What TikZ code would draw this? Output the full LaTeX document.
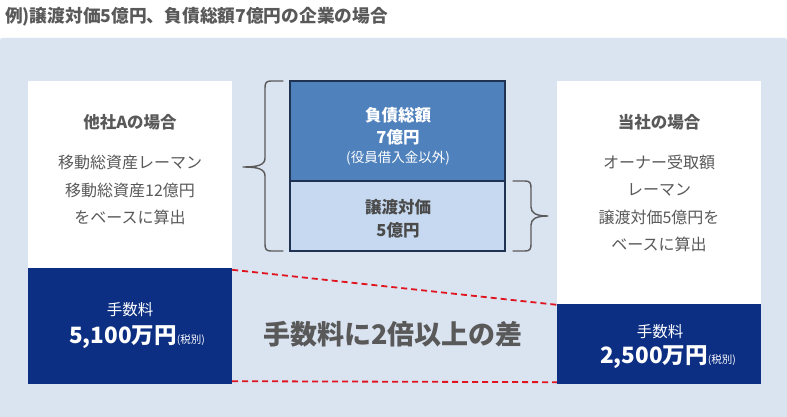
\documentclass[tikz,border=0pt]{standalone}
\usepackage{fontspec}
\setmainfont{Noto Sans CJK JP}
\usetikzlibrary{calc}
\definecolor{txtgray}{HTML}{595959}
\definecolor{midgray}{HTML}{4A4A4A}
\definecolor{panel}{HTML}{DAE3F0}
\definecolor{navy}{HTML}{0D2F83}
\definecolor{midblue}{HTML}{4F81BD}
\definecolor{lightblue}{HTML}{C6D9F0}
\definecolor{edgenavy}{HTML}{1F3251}
\definecolor{dashred}{HTML}{E0141E}
\begin{document}
\begin{tikzpicture}[x=1pt,y=-1pt,
  whitebox/.style={fill=white,draw=none,minimum width=204pt,inner sep=0pt},
  navybox/.style={fill=navy,draw=none,minimum width=204pt,inner sep=0pt},
  stackbox/.style={draw=edgenavy,line width=1.4pt,minimum width=215pt,inner sep=0pt},
  headtxt/.style={font=\fontsize{16.5}{20}\selectfont\bfseries,text=txtgray,inner sep=0pt},
  bodytxt/.style={font=\fontsize{16}{27.5}\selectfont,text=txtgray,align=center,inner sep=0pt},
  feelabel/.style={font=\fontsize{15.5}{18}\selectfont,text=white,inner sep=0pt},
  feeamount/.style={font=\fontsize{22.5}{26}\selectfont\bfseries,text=white,inner sep=0pt},
  bracepath/.style={draw=txtgray,line width=1.4pt,line cap=round,line join=round},
  gapline/.style={draw=dashred,line width=1.8pt,dash pattern=on 6pt off 4pt}
]
\useasboundingbox (0,0) rectangle (787,417);
\fill[panel,rounded corners=2pt] (0,38) rectangle (787,419);

\node[anchor=west,font=\fontsize{17.7}{20}\selectfont\bfseries,text=txtgray,inner sep=0pt] (title) at (5,17) {例)譲渡対価5億円、負債総額7億円の企業の場合};

% left column
\node[whitebox,minimum height=187pt] (lwhite) at (130,174.5) {};
\node[navybox,minimum height=116pt] (ldark) at (130,326) {};
\node[headtxt] (lhead) at (130,122) {他社Aの場合};
\node[bodytxt] (lbody) at (130,190) {移動総資産レーマン\\移動総資産12億円\\をベースに算出};
\node[feelabel] (lfee) at (130,310) {手数料};
\node[feeamount] (lamt) at (137,337) {5,100万円{\fontsize{10.5}{12}\selectfont\mdseries(税別)}};

% right column
\node[whitebox,minimum height=223pt] (rwhite) at (659,192.5) {};
\node[navybox,minimum height=80pt] (rdark) at (659,344) {};
\node[headtxt] (rhead) at (659,122) {当社の場合};
\node[bodytxt] (rbody) at (659,203.5) {オーナー受取額\\レーマン\\譲渡対価5億円を\\ベースに算出};
\node[feelabel] (rfee) at (660,332) {手数料};
\node[feeamount] (ramt) at (668,357) {2,500万円{\fontsize{10.5}{12}\selectfont\mdseries(税別)}};

% middle stack
\node[stackbox,fill=midblue,minimum height=100pt] (debt) at (397.5,131) {};
\node[stackbox,fill=lightblue,minimum height=70pt] (price) at (397.5,216) {};
\node[font=\fontsize{16.5}{20}\selectfont\bfseries,text=white,inner sep=0pt] (debtA) at (398,115) {負債総額};
\node[font=\fontsize{16.5}{20}\selectfont\bfseries,text=white,inner sep=0pt] (debtB) at (398,137) {7億円};
\node[font=\fontsize{13.5}{15}\selectfont,text=white,inner sep=0pt] (debtC) at (398,158) {(役員借入金以外)};
\node[font=\fontsize{16.5}{20}\selectfont\bfseries,text=midgray,inner sep=0pt] (priceA) at (398,207) {譲渡対価};
\node[font=\fontsize{16.5}{20}\selectfont\bfseries,text=midgray,inner sep=0pt] (priceB) at (398,230) {5億円};

% braces
\draw[bracepath] (283,81) -- (271,81) .. controls (266,81) and (265,83) .. (265,88)
  -- (265,158) .. controls (265,165) and (258,167) .. (243,167)
  .. controls (258,167) and (265,169) .. (265,176)
  -- (265,244) .. controls (265,249) and (266,251) .. (271,251) -- (283,251);
\draw[bracepath] (513,181) -- (525,181) .. controls (530,181) and (531,183) .. (531,188)
  -- (531,207) .. controls (531,213) and (536,216) .. (548,216)
  .. controls (536,216) and (531,219) .. (531,225)
  -- (531,244) .. controls (531,249) and (530,251) .. (525,251) -- (513,251);

% comparison
\draw[gapline] ($(ldark.north east)+(0,2)$) -- ($(rdark.north west)+(0,1)$);
\draw[gapline] ($(ldark.south east)+(0,-3)$) -- ($(rdark.south west)+(0,-2)$);
\node[font=\fontsize{27}{30}\selectfont\bfseries,text=txtgray,inner sep=0pt] (gap) at (393,334) {手数料に2倍以上の差};
\end{tikzpicture}
\end{document}
